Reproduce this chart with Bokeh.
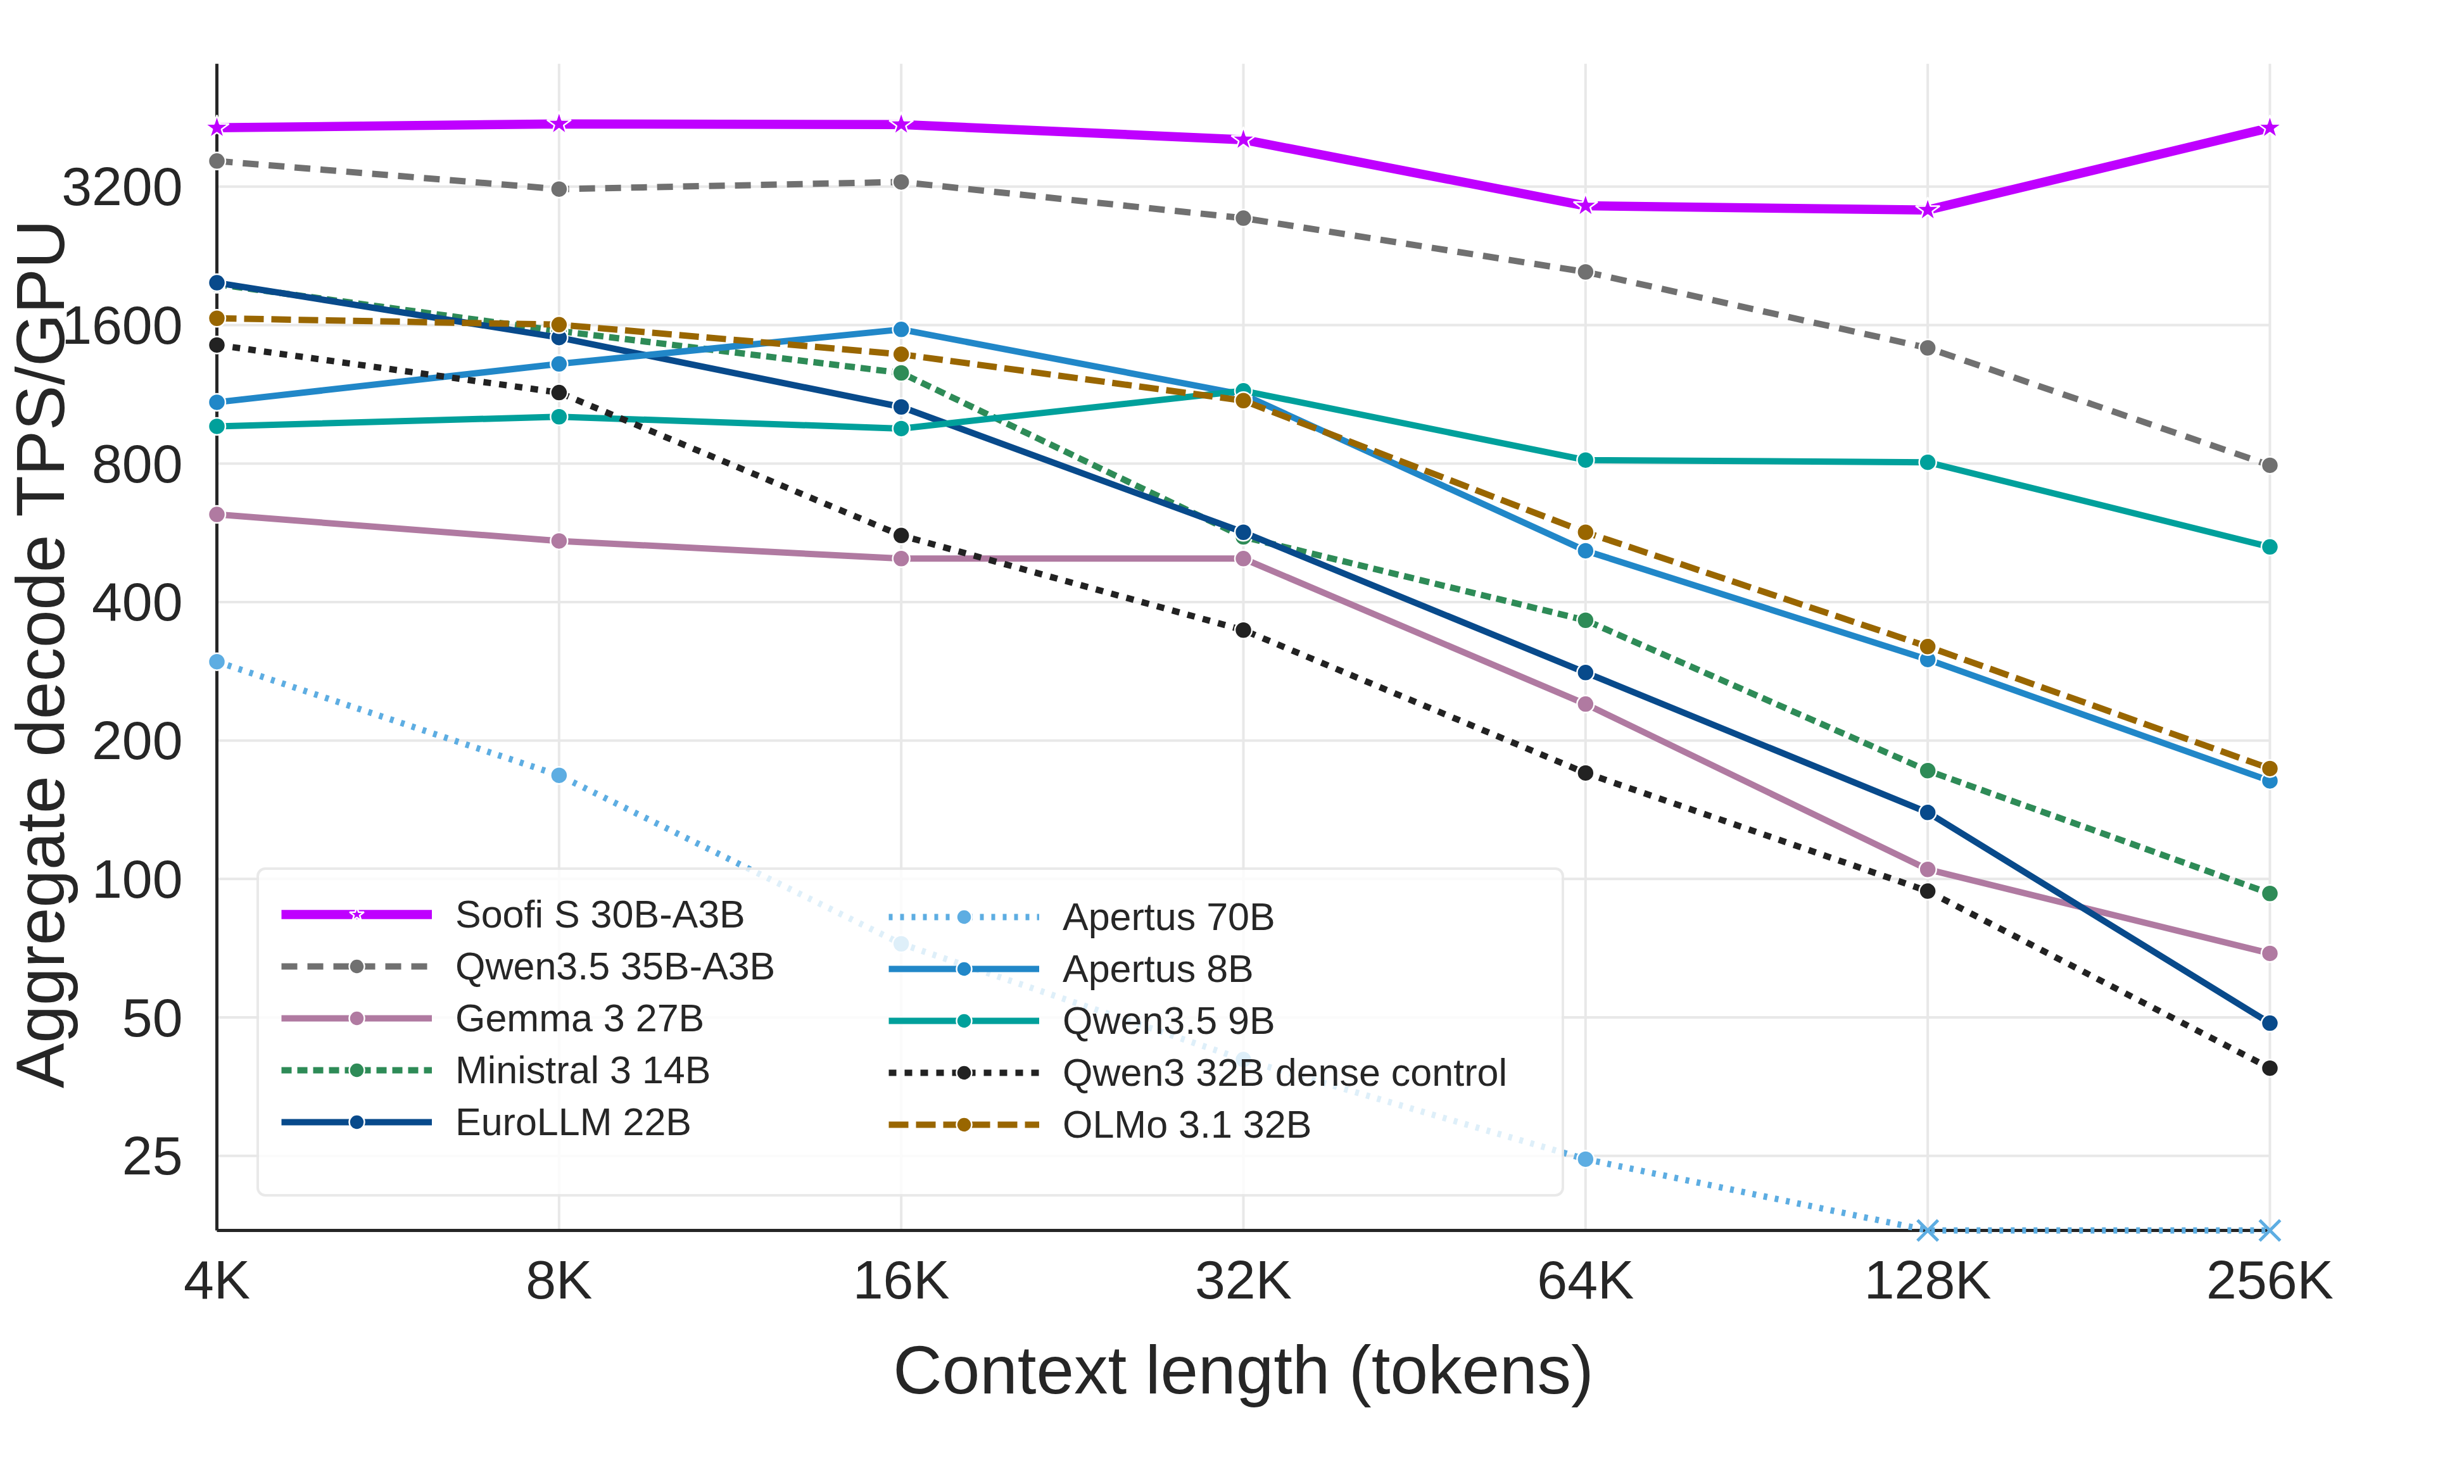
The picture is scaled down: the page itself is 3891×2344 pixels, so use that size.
from bokeh.plotting import figure
from bokeh.models import Range1d, FixedTicker, Legend, LegendItem
from bokeh.embed import file_html
from bokeh.resources import INLINE

# ---------------- data ----------------
CONTEXT = [4096, 8192, 16384, 32768, 65536, 131072, 262144]
CONTEXT_LABELS = ["4K", "8K", "16K", "32K", "64K", "128K", "256K"]
Y_TICKS = [25, 50, 100, 200, 400, 800, 1600, 3200]

soofi_s_30b = [4294, 4378, 4365, 4045, 2906, 2845, 4294]
qwen35_35b = [3636, 3159, 3274, 2732, 2087, 1427, 793]
gemma3_27b = [620, 543, 497, 497, 240, 104.9, 68.9]
ministral3_14b = [1962, 1553, 1259, 554, 365, 172, 93.0]
eurollm_22b = [1977, 1503, 1062, 567, 281, 139.5, 48.6]
apertus_70b = [296.7, 168, 72.3, 40.5, 24.6, None, None]   # None = OOM
apertus_8b = [1087, 1317, 1565, 1129, 517, 300, 163.4]
qwen35_9b = [963.5, 1011, 953, 1151, 814, 805, 527]
qwen3_32b = [1448, 1141, 558, 347.5, 170, 94.1, 38.8]
olmo31_32b = [1655, 1603, 1382, 1096, 567, 320, 173.8]

SERIES = [
    ("Soofi S 30B-A3B", soofi_s_30b, "#bf00ff", "solid", 14.5, "star"),
    ("Qwen3.5 35B-A3B", qwen35_35b, "#707070", "25 16", 10, "circle"),
    ("Gemma 3 27B", gemma3_27b, "#b07aa1", "solid", 10, "circle"),
    ("Ministral 3 14B", ministral3_14b, "#2e8b57", "16 9", 10, "circle"),
    ("EuroLLM 22B", eurollm_22b, "#084a8b", "solid", 10, "circle"),
    ("Apertus 70B", apertus_70b, "#5dade2", "6 12", 10, "circle"),
    ("Apertus 8B", apertus_8b, "#2187c8", "solid", 10, "circle"),
    ("Qwen3.5 9B", qwen35_9b, "#00a09b", "solid", 10, "circle"),
    ("Qwen3 32B dense control", qwen3_32b, "#222222", "12 13", 10, "circle"),
    ("OLMo 3.1 32B", olmo31_32b, "#996600", "31 12", 10, "circle"),
]

valid = [v for _, s, *_ in SERIES for v in s if v is not None]
FLOOR = min(valid) * 0.7          # OOM points are drawn on the lower limit
Y_TOP = 5920

FONT = "Liberation Sans"
TXT = "#262626"

XPAD = 2 ** (30 / 540.3)
YPAD = 2 ** (20 / 218.9)

p = figure(width=3891, height=2344, x_axis_type="log", y_axis_type="log",
           x_range=Range1d(CONTEXT[0] / XPAD, CONTEXT[-1] * XPAD),
           y_range=Range1d(FLOOR / YPAD, Y_TOP),
           output_backend="svg", toolbar_location=None, title=None,
           min_border_left=312, min_border_right=277,
           min_border_top=100, min_border_bottom=381)
p.outline_line_color = None
p.background_fill_color = "white"
p.xgrid.grid_line_color = None
p.ygrid.grid_line_color = None

# manual grid (bounded to the data area)
GRID = "#e8e8e8"
p.segment(x0=[CONTEXT[0]] * len(Y_TICKS), y0=Y_TICKS, x1=[CONTEXT[-1]] * len(Y_TICKS), y1=Y_TICKS,
          line_color=GRID, line_width=4)
p.segment(x0=CONTEXT, y0=[FLOOR] * len(CONTEXT), x1=CONTEXT, y1=[Y_TOP] * len(CONTEXT),
          line_color=GRID, line_width=4)
# spines
p.segment(x0=[CONTEXT[0], CONTEXT[0]], y0=[FLOOR, FLOOR], x1=[CONTEXT[0], CONTEXT[-1]], y1=[Y_TOP, FLOOR],
          line_color=TXT, line_width=5)

items = []
for label, vals, color, dash, lw, marker in SERIES:
    ys = [v if v is not None else FLOOR for v in vals]
    lr = p.line(CONTEXT, ys, line_color=color, line_width=lw, line_dash=dash)
    xs_ok = [x for x, v in zip(CONTEXT, vals) if v is not None]
    ys_ok = [v for v in vals if v is not None]
    size = 40 if marker == "star" else 27
    sr = p.scatter(xs_ok, ys_ok, marker=marker, size=size, fill_color=color,
                   line_color="white", line_width=2.5)
    xs_oom = [x for x, v in zip(CONTEXT, vals) if v is None]
    if xs_oom:
        p.scatter(xs_oom, [FLOOR] * len(xs_oom), marker="x", size=46,
                  line_color=color, line_width=5)
    items.append(LegendItem(label=label, renderers=[lr, sr]))

# axes
for ax in (p.xaxis, p.yaxis):
    ax.axis_line_color = None
    ax.major_tick_line_color = None
    ax.minor_tick_line_color = None
    ax.major_label_text_font = FONT
    ax.major_label_text_font_size = "86px"
    ax.major_label_text_color = TXT
    ax.axis_label_text_font = FONT
    ax.axis_label_text_font_size = "107px"
    ax.axis_label_text_font_style = "normal"
    ax.axis_label_text_color = TXT

p.xaxis.ticker = FixedTicker(ticks=CONTEXT)
p.xaxis.major_label_overrides = dict(zip(CONTEXT, CONTEXT_LABELS))
p.xaxis.major_label_standoff = 3
p.xaxis.axis_label = "Context length (tokens)"
p.xaxis.axis_label_standoff = 32

p.yaxis.ticker = FixedTicker(ticks=Y_TICKS)
p.yaxis.major_label_overrides = {t: str(t) for t in Y_TICKS}
p.yaxis.major_label_standoff = 18
p.yaxis.axis_label = "Aggregate decode TPS/GPU"
p.yaxis.axis_label_standoff = -30


def make_legend(its, loc, boxed, label_width):
    lg = Legend(items=its, location=loc, orientation="vertical",
                label_text_font=FONT, label_text_font_size="61px", label_text_color=TXT,
                glyph_width=238, glyph_height=60, label_height=70, label_width=label_width,
                label_standoff=37, spacing=12, padding=35, margin=0,
                title=" ", title_location="below", title_text_font_size="30px", title_standoff=10)
    if boxed:
        lg.background_fill_color = "white"
        lg.background_fill_alpha = 0.8
        lg.border_line_color = "#d4d4d4"
        lg.border_line_width = 4
        if "border_radius" in Legend.properties():
            lg.border_radius = 14
    else:
        lg.background_fill_alpha = 0
        lg.border_line_alpha = 0
    return lg


left_lg = make_legend(items[:5], (93, 73), True, 1712)
right_lg = make_legend(items[5:], (1056, 73), False, 100)
p.add_layout(left_lg, "center")
p.add_layout(right_lg, "center")

open("out.html", "w").write(file_html(p, INLINE))
